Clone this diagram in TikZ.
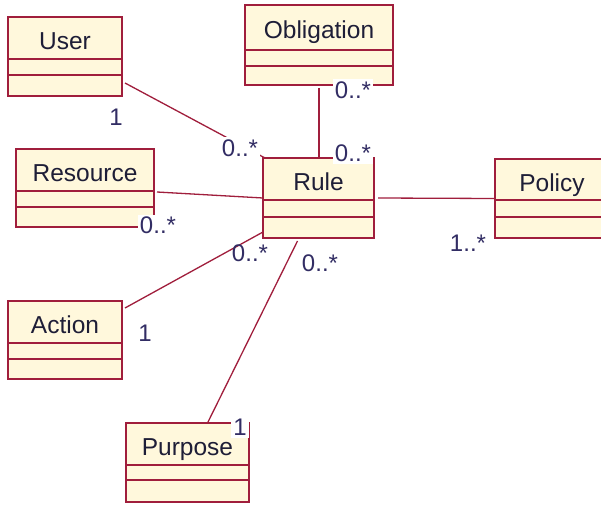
\documentclass[tikz,border=0pt]{standalone}
\usepackage{fontspec}
\setmainfont{Liberation Sans}
\usetikzlibrary{calc}
\definecolor{umlborder}{RGB}{160,30,60}
\definecolor{umlfill}{RGB}{255,248,220}
\definecolor{umltext}{RGB}{30,30,55}
\definecolor{multtext}{RGB}{50,45,100}
\tikzset{
  classbox/.style={draw=umlborder, fill=umlfill, line width=1.8pt, inner sep=0pt, outer sep=0pt, rectangle},
  divider/.style={draw=umlborder, line width=1.8pt},
  classname/.style={text=umltext, inner sep=0pt, text height=17pt, text depth=0pt, font=\fontsize{24.5}{28}\selectfont},
  assoc/.style={draw=umlborder, line width=1.3pt},
  mult/.style={text=multtext, inner sep=1pt, text height=17pt, text depth=0pt, font=\fontsize{24}{28}\selectfont},
  multbg/.style={mult, fill=white, inner sep=2pt},
}
\newcommand{\umlclass}[8]{%
  \node[classbox, anchor=north west, minimum width=#4pt, minimum height=#5pt] (#1) at (#2,#3) {};
  \draw[divider] ([yshift=-#6pt]#1.north west) -- ([yshift=-#6pt]#1.north east);
  \draw[divider] ([yshift=-#7pt]#1.north west) -- ([yshift=-#7pt]#1.north east);
  \node[classname] (#1-name) at ($(#1.north)!0.5!([yshift=-#6pt]#1.north)+(0,3)$) {#8};
}
\begin{document}
\begin{tikzpicture}[x=1pt, y=-1pt]
  \path[use as bounding box] (0,0) rectangle (601,505);
  \clip (0,0) rectangle (601,505);
  \fill[white] (0,0) rectangle (601,505);

  \umlclass{user}{8}{17}{114}{79}{42}{58}{User}
  \umlclass{obligation}{245}{5}{148}{80}{45}{61}{Obligation}
  \umlclass{rule}{263}{158}{111}{80}{42}{59}{Rule}
  \umlclass{policy}{495}{159}{114}{79}{41}{58}{Policy}
  \umlclass{resource}{16}{149}{138}{78}{42}{58}{Resource}
  \umlclass{action}{8}{301}{114}{78}{42}{58}{Action}
  \umlclass{purpose}{126}{423}{123}{79}{42}{57}{Purpose}

  % associations
  \draw[assoc] ([xshift=3pt,yshift=13pt]user.south east) -- ([xshift=2pt]rule.north west);
  \draw[assoc] ([xshift=3pt,yshift=-4pt]resource.east) -- (rule.west);
  \draw[assoc] ([yshift=-3pt]obligation.south) -- (obligation.south |- rule.north);
  \draw[assoc] ([xshift=4pt]rule.east) -- (policy.west);
  \draw[assoc] ([xshift=3pt,yshift=-7pt]action.north east) -- ([yshift=6pt]rule.south west);
  \draw[assoc] ([xshift=-21pt,yshift=-3pt]rule.south) -- ([xshift=20pt]purpose.north);

  % multiplicities
  \node[mult] (m-user) at (116,117) {1};
  \node[multbg] (m-userrule) at (240,148) {0..*};
  \node[multbg] (m-obl) at (353,90) {0..*};
  \node[multbg] (m-oblrule) at (353,153) {0..*};
  \node[mult] (m-policy) at (468,243) {1..*};
  \node[multbg] (m-res) at (158,225) {0..*};
  \node[mult] (m-actrule) at (250,253) {0..*};
  \node[mult] (m-purrule) at (320,263) {0..*};
  \node[mult] (m-act) at (145,333) {1};
  \node[multbg] (m-pur) at (240,427) {1};
\end{tikzpicture}
\end{document}
